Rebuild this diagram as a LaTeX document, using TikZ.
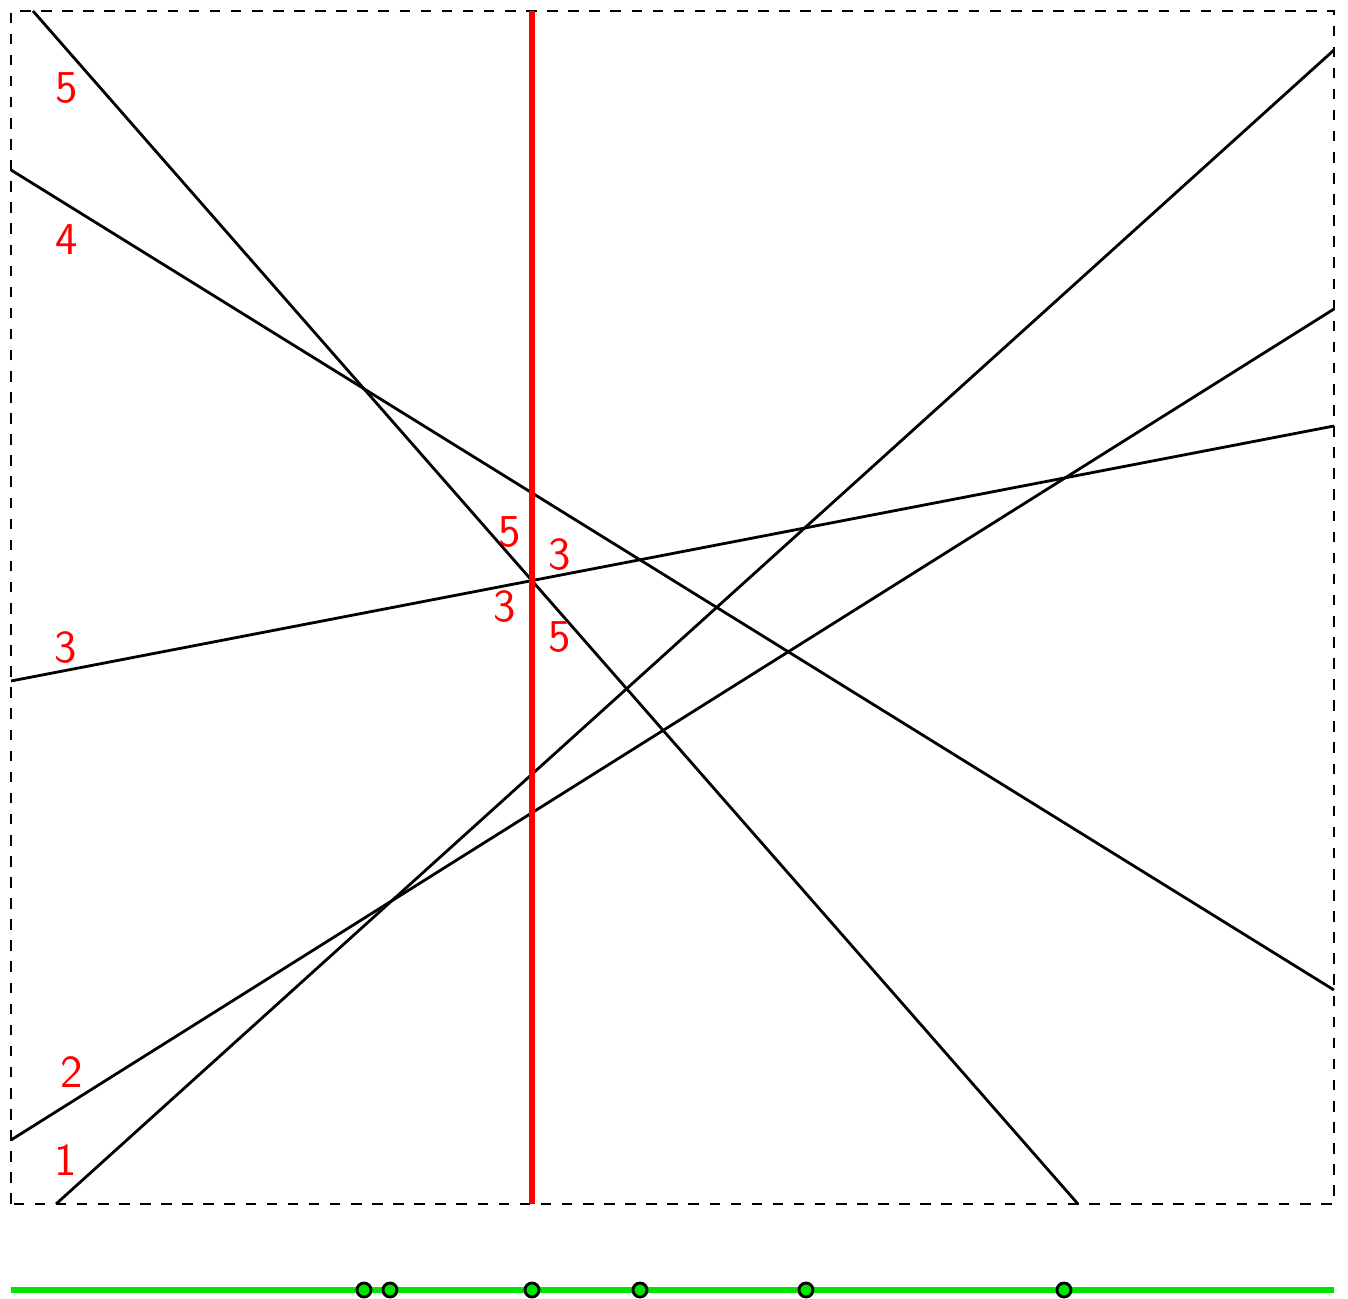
\documentclass[tikz,border=0pt]{standalone}
\usepackage{tikz}
\usetikzlibrary{positioning,calc}

\begin{document}
\begin{tikzpicture}[
  font=\sffamily\fontsize{13}{15}\selectfont,
  seg/.style={line width=0.8pt, black},
  sweep/.style={line width=1.5pt, red},
  lab/.style={text=red, inner sep=0pt},
  axis/.style={line width=1.7pt, green!90!black},
  evt/.style={circle, draw=black, fill=green!90!black, line width=0.8pt, minimum size=0.14cm, inner sep=0pt},
]
\useasboundingbox (-0.11,-0.94) rectangle (13.37,12.04);
% window
\draw[dashed, line width=0.4pt] (0,0) rectangle (13.23,11.93);
% end points of the segments
\coordinate (a5) at (0.22,11.93); \coordinate (b5) at (10.67,0);
\coordinate (a4) at (0,10.34);    \coordinate (b4) at (13.23,2.14);
\coordinate (a3) at (0,5.23);     \coordinate (b3) at (13.23,7.78);
\coordinate (a2) at (0,0.64);     \coordinate (b2) at (13.23,8.95);
\coordinate (a1) at (0.45,0);     \coordinate (b1) at (13.23,11.54);
\draw[seg] (a5) -- (b5);
\draw[seg] (a4) -- (b4);
\draw[seg] (a3) -- (b3);
\draw[seg] (a2) -- (b2);
\draw[seg] (a1) -- (b1);
% segment labels
\node[lab] (l5) at (0.56,11.16) {5};
\node[lab] (l4) at (0.56,9.64) {4};
\node[lab] (l3) at (0.55,5.56) {3};
\node[lab] (l2) at (0.61,1.32) {2};
\node[lab] (l1) at (0.55,0.44) {1};
% sweep line
\coordinate (st) at (5.21,11.93); \coordinate (sb) at (5.21,0);
\draw[sweep] (st) -- (sb);
\node[lab] (u5) at (4.99,6.72) {5};
\node[lab] (u3) at (5.49,6.49) {3};
\node[lab] (d3) at (4.94,5.97) {3};
\node[lab] (d5) at (5.49,5.67) {5};
% event queue
\coordinate (ql) at (0,-0.86); \coordinate (qr) at (13.23,-0.86);
\draw[axis] (ql) -- (qr);
\foreach \x/\n in {3.53/e1, 3.79/e2, 5.21/e3, 6.29/e4, 7.95/e5, 10.53/e6}
  \node[evt] (\n) at (\x,-0.86) {};
\end{tikzpicture}
\end{document}
